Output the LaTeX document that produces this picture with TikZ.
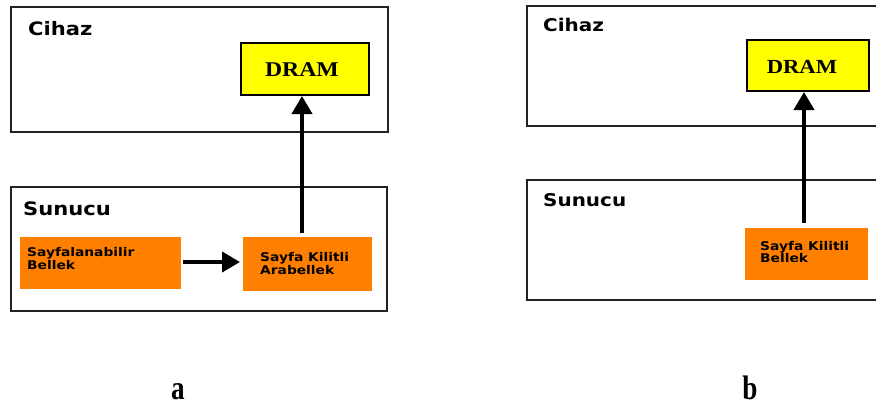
\documentclass[tikz,border=0pt]{standalone}
\usepackage{fontspec}
\usetikzlibrary{arrows.meta}
\newfontfamily\labfont{DejaVu Sans}[FakeStretch=1.14]
\newfontfamily\smlfont{DejaVu Sans}[FakeStretch=1.15]
\newfontfamily\serfont{Liberation Serif}[FakeStretch=1.13]
\newfontfamily\capfont{Liberation Serif}[FakeStretch=0.8]
\definecolor{boxline}{HTML}{222222}
\definecolor{orng}{HTML}{FF8000}
\definecolor{yel}{HTML}{FFFF00}
\tikzset{
  outerbox/.style={draw=boxline, line width=2pt, rectangle, inner sep=0pt, anchor=north west},
  drambox/.style={draw=black, fill=yel, line width=1.5pt, rectangle, inner sep=0pt, anchor=north west},
  orbox/.style={fill=orng, rectangle, inner sep=0pt, anchor=north west},
  title/.style={anchor=base west, inner sep=0pt, font=\labfont\bfseries\fontsize{18.5}{18.5}\selectfont},
  titleb/.style={anchor=base west, inner sep=0pt, font=\labfont\bfseries\fontsize{17.5}{17.5}\selectfont},
  small/.style={anchor=base west, inner sep=0pt, font=\smlfont\bfseries\fontsize{12}{12}\selectfont},
  dramtxt/.style={anchor=base, inner sep=0pt, font=\serfont\bfseries\fontsize{21}{21}\selectfont},
  dramtxtb/.style={anchor=base, inner sep=0pt, font=\serfont\bfseries\fontsize{20}{20}\selectfont},
  captxt/.style={anchor=base, inner sep=0pt, font=\capfont\bfseries\fontsize{34}{34}\selectfont},
  conn/.style={line width=4pt, -{Triangle[length=18pt,width=20pt]}},
}
\begin{document}
\begin{tikzpicture}[x=1pt,y=-1pt]
\useasboundingbox (0,0) rectangle (876,405);
\clip (0,0) rectangle (876,405);
% ---------- panel a ----------
\node[outerbox, minimum width=377pt, minimum height=125pt] (cihazA) at (10,6) {};
\node[title] (cihazAt) at (28,35) {Cihaz};
\node[drambox, minimum width=128pt, minimum height=52pt] (dramA) at (240,42) {};
\node[dramtxt] (dramAt) at (302,76) {DRAM};
\node[outerbox, minimum width=376pt, minimum height=124pt] (sunA) at (10,186) {};
\node[title] (sunAt) at (23,215) {Sunucu};
\node[orbox, minimum width=161pt, minimum height=52pt] (sayfA) at (20,237) {};
\node[small] (sayfAt1) at (27,256) {Sayfalanabilir};
\node[small] (sayfAt2) at (27,269) {Bellek};
\node[orbox, minimum width=129pt, minimum height=54pt] (kilA) at (243,237) {};
\node[small] (kilAt1) at (260,261) {Sayfa Kilitli};
\node[small] (kilAt2) at (260,274) {Arabellek};
\coordinate (kilAtop) at (302,233);
\coordinate (dramAbot) at (302,96);
\draw[conn] (kilAtop) -- (dramAbot);
\coordinate (hA1) at (183,262);
\coordinate (hA2) at (240,262);
\draw[conn] (hA1) -- (hA2);
\node[captxt] (capA) at (178,399) {a};
% ---------- panel b ----------
\node[outerbox, minimum width=360pt, minimum height=120pt] (cihazB) at (526,5) {};
\node[titleb] (cihazBt) at (543,31) {Cihaz};
\node[drambox, minimum width=122pt, minimum height=51pt] (dramB) at (746,39) {};
\node[dramtxtb] (dramBt) at (802,73) {DRAM};
\node[outerbox, minimum width=360pt, minimum height=120pt] (sunB) at (526,179) {};
\node[titleb] (sunBt) at (543,206) {Sunucu};
\node[orbox, minimum width=123pt, minimum height=52pt] (kilB) at (745,228) {};
\node[small] (kilBt1) at (760,250) {Sayfa Kilitli};
\node[small] (kilBt2) at (760,262) {Bellek};
\coordinate (kilBtop) at (804,223);
\coordinate (dramBbot) at (804,92);
\draw[conn] (kilBtop) -- (dramBbot);
\node[captxt] (capB) at (750,399) {b};
\end{tikzpicture}
\end{document}
